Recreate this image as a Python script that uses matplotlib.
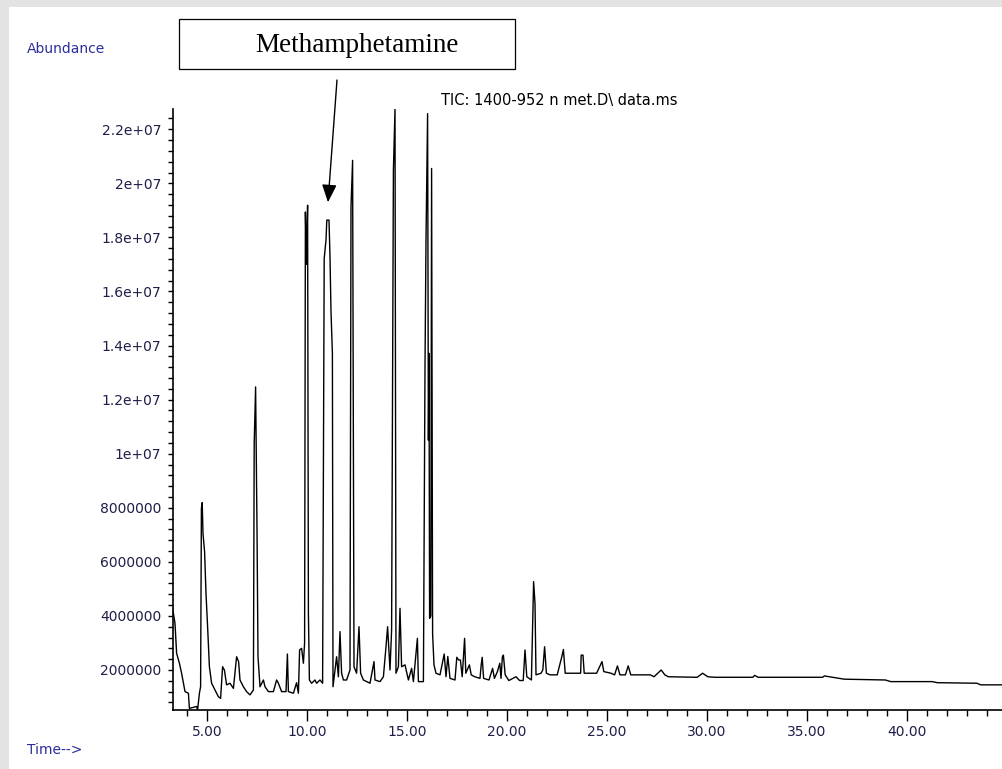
import numpy as np
import matplotlib
matplotlib.use("Agg")
import matplotlib.pyplot as plt
from matplotlib.patches import Rectangle
from matplotlib.ticker import FixedLocator, MultipleLocator

# retention time (min) and abundance (millions of counts)
time_min = [
    3.28, 3.40, 3.48, 3.62, 3.73, 3.90, 4.07, 4.12, 4.48, 4.53, 4.62, 4.68,
    4.72, 4.76, 4.80, 4.88, 4.95, 5.03, 5.12, 5.23, 5.40, 5.57, 5.68, 5.78,
    5.87, 5.98, 6.15, 6.32, 6.48, 6.58, 6.65, 6.82, 6.98, 7.15, 7.32, 7.36,
    7.43, 7.50, 7.55, 7.65, 7.82, 7.90, 8.07, 8.32, 8.48, 8.57, 8.73, 8.95,
    9.02, 9.07, 9.32, 9.48, 9.57, 9.63, 9.73, 9.82, 9.88, 9.92, 9.97, 10.03,
    10.07, 10.12, 10.23, 10.40, 10.48, 10.65, 10.78, 10.82, 10.86, 10.95, 10.99, 11.10,
    11.15, 11.20, 11.27, 11.30, 11.48, 11.57, 11.65, 11.73, 11.82, 11.98, 12.15, 12.20,
    12.28, 12.35, 12.48, 12.60, 12.68, 12.82, 12.98, 13.15, 13.35, 13.40, 13.65, 13.82,
    13.95, 14.03, 14.15, 14.23, 14.32, 14.40, 14.45, 14.57, 14.65, 14.73, 14.90, 15.07,
    15.23, 15.32, 15.52, 15.57, 15.82, 15.90, 15.95, 16.03, 16.07, 16.10, 16.13, 16.19,
    16.23, 16.28, 16.35, 16.45, 16.65, 16.86, 16.95, 17.04, 17.15, 17.40, 17.49, 17.58,
    17.67, 17.76, 17.88, 17.94, 18.12, 18.21, 18.39, 18.65, 18.71, 18.76, 18.83, 19.10,
    19.28, 19.37, 19.52, 19.64, 19.70, 19.77, 19.82, 19.91, 20.09, 20.45, 20.63, 20.81,
    20.90, 20.99, 21.22, 21.33, 21.40, 21.45, 21.70, 21.79, 21.88, 21.97, 22.15, 22.51,
    22.74, 22.82, 22.91, 23.68, 23.71, 23.80, 23.86, 24.48, 24.75, 24.84, 25.20, 25.38,
    25.52, 25.65, 25.92, 26.06, 26.19, 27.17, 27.35, 27.71, 27.89, 28.07, 29.51, 29.78,
    30.04, 30.40, 32.29, 32.38, 32.56, 35.78, 35.87, 36.86, 38.92, 39.19, 41.26, 41.52,
    43.50, 43.68, 45.50,
]
abundance_m = [
    4.28, 3.72, 2.62, 2.25, 1.88, 1.20, 1.14, 0.58, 0.65, 0.52, 1.14, 1.38,
    7.98, 8.19, 7.05, 6.37, 4.83, 3.60, 2.12, 1.51, 1.26, 1.01, 0.95, 2.12,
    2.00, 1.45, 1.51, 1.32, 2.49, 2.31, 1.63, 1.38, 1.20, 1.08, 1.26, 10.38,
    12.47, 7.24, 2.49, 1.38, 1.63, 1.38, 1.20, 1.20, 1.63, 1.51, 1.20, 1.20,
    2.59, 1.20, 1.14, 1.53, 1.14, 2.74, 2.80, 2.25, 3.00, 18.94, 17.00, 19.19,
    4.10, 1.63, 1.51, 1.63, 1.51, 1.63, 1.51, 9.39, 17.22, 17.90, 18.64, 18.64,
    17.28, 15.25, 13.71, 1.38, 2.49, 1.75, 3.42, 1.88, 1.63, 1.63, 2.00, 19.13,
    20.85, 2.12, 1.88, 3.60, 1.88, 1.63, 1.57, 1.51, 2.31, 1.63, 1.57, 1.75,
    2.86, 3.60, 2.00, 3.48, 20.49, 22.75, 1.88, 2.12, 4.28, 2.12, 2.19, 1.63,
    2.06, 1.57, 3.17, 1.57, 1.57, 13.21, 17.90, 22.58, 10.50, 13.71, 3.91, 4.00,
    20.55, 3.35, 2.19, 1.88, 1.82, 2.59, 1.75, 2.50, 1.69, 1.63, 2.47, 2.37,
    2.37, 1.75, 3.17, 1.88, 2.19, 1.82, 1.75, 1.69, 2.19, 2.47, 1.69, 1.63,
    2.06, 1.69, 1.94, 2.25, 1.69, 2.49, 2.55, 1.82, 1.61, 1.75, 1.61, 1.61,
    2.74, 1.75, 1.63, 5.27, 4.46, 1.82, 1.88, 2.00, 2.86, 1.88, 1.82, 1.82,
    2.49, 2.76, 1.88, 1.88, 2.55, 2.55, 1.88, 1.88, 2.31, 1.94, 1.88, 1.82,
    2.15, 1.82, 1.82, 2.15, 1.82, 1.82, 1.75, 2.00, 1.82, 1.75, 1.73, 1.88,
    1.75, 1.73, 1.73, 1.80, 1.73, 1.73, 1.78, 1.66, 1.63, 1.57, 1.57, 1.53,
    1.51, 1.45, 1.45,
]

x_ticks = [5, 10, 15, 20, 25, 30, 35, 40]
x_labels = ["5.00", "10.00", "15.00", "20.00", "25.00", "30.00", "35.00", "40.00"]
y_ticks = [2e6, 4e6, 6e6, 8e6, 1e7, 1.2e7, 1.4e7, 1.6e7, 1.8e7, 2e7, 2.2e7]
y_labels = ["2000000", "4000000", "6000000", "8000000", "1e+07", "1.2e+07",
            "1.4e+07", "1.6e+07", "1.8e+07", "2e+07", "2.2e+07"]

meth_rt = 11.05
meth_arrow_tip = 1.93e7

W, H = 1003, 769
fig = plt.figure(figsize=(W / 100, H / 100), dpi=100, facecolor="#e3e3e3")
fig.patches.append(Rectangle((9 / W, 0), 1, 1 - 7 / H, transform=fig.transFigure,
                             facecolor="white", edgecolor="none", zorder=-10))

ax = fig.add_axes([173 / W, 59 / H, 830 / W, 601 / H])
ax.set_facecolor("white")
ax.plot(time_min, np.array(abundance_m) * 1e6, color="black", lw=1.0)

ax.set_xlim(3.3, 44.8)
ax.set_ylim(0.52e6, 2.275e7)
ax.spines["top"].set_visible(False)
ax.spines["right"].set_visible(False)
ax.spines["left"].set_linewidth(1.2)
ax.spines["bottom"].set_linewidth(1.2)

ax.xaxis.set_major_locator(FixedLocator(x_ticks))
ax.set_xticklabels(x_labels)
ax.xaxis.set_minor_locator(MultipleLocator(1))
ax.yaxis.set_major_locator(FixedLocator(y_ticks))
ax.set_yticklabels(y_labels)
ax.yaxis.set_minor_locator(MultipleLocator(4e5))

tick_color = "#1e1e48"
ax.tick_params(axis="x", which="major", length=8, width=1, pad=3,
               labelsize=10, labelcolor=tick_color)
ax.tick_params(axis="x", which="minor", length=4, width=1)
ax.tick_params(axis="y", which="both", length=3.5, width=1, pad=5,
               labelsize=10, labelcolor=tick_color)

fig.text(27 / W, 1 - 49 / H, "Abundance", color="#2d2d9a", fontsize=10, va="center")
fig.text(27 / W, 1 - 750 / H, "Time-->", color="#2d2d9a", fontsize=10, va="center")
fig.text(441 / W, 1 - 100 / H, "TIC: 1400-952 n met.D\\ data.ms", color="black",
         fontsize=10.5, va="center")

# label box + arrow pointing at the methamphetamine peak
fig.patches.append(Rectangle((179 / W, 1 - 69 / H), 336 / W, 50 / H,
                             transform=fig.transFigure, facecolor="white",
                             edgecolor="black", lw=0.9))
fig.text(357 / W, 1 - 46 / H, "Methamphetamine", family="Liberation Serif",
         fontsize=19.5, ha="center", va="center")
ax.annotate("", xy=(meth_rt, meth_arrow_tip), xytext=(337 / W, 1 - 80 / H),
            textcoords="figure fraction",
            arrowprops=dict(arrowstyle="-|>,head_length=0.6,head_width=0.25",
                            mutation_scale=18, color="black", lw=1,
                            shrinkA=0, shrinkB=0),
            annotation_clip=False)

fig.savefig("out.png", dpi=100, facecolor=fig.get_facecolor())
